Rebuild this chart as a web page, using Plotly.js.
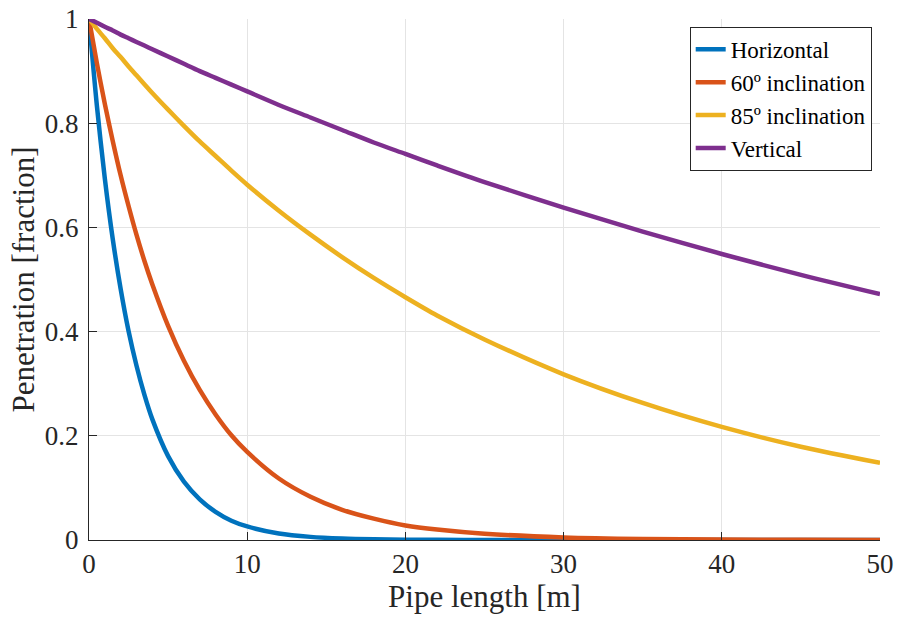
<!DOCTYPE html>
<html>
<head>
<meta charset="utf-8">
<script src="https://cdn.plot.ly/plotly-3.0.1.min.js"></script>
<style>html,body{margin:0;padding:0;background:#fff;}#chart{width:898px;height:621px;}</style>
</head>
<body>
<div id="chart"></div>
<script>
// Pipe length [m]
const pipeLength = [0,0.5,1,1.5,2,2.5,3,3.5,4,5,6,7,8,9,10,12,14,16,18,20,22,25,30,35,40,45,50];
// Penetration [fraction]
const horizontal = [1,0.833,0.694,0.578,0.482,0.401,0.335,0.279,0.232,0.161,0.112,0.078,0.054,0.037,0.026,0.0125,0.006,0.0029,0.0014,0.0007,0.0003,0.0001,0,0,0,0,0];
const incl60 = [1,0.915,0.837,0.766,0.700,0.641,0.586,0.536,0.491,0.411,0.344,0.288,0.241,0.201,0.169,0.118,0.083,0.058,0.041,0.028,0.020,0.012,0.005,0.002,0.0008,0.0003,0.0001];
const incl85 = [1,0.981,0.963,0.944,0.927,0.909,0.892,0.875,0.858,0.826,0.795,0.765,0.737,0.709,0.682,0.632,0.586,0.543,0.503,0.466,0.431,0.385,0.318,0.263,0.217,0.179,0.148];
const vertical = [1,0.993,0.985,0.978,0.970,0.963,0.956,0.949,0.942,0.928,0.914,0.900,0.887,0.874,0.861,0.835,0.811,0.787,0.763,0.741,0.719,0.687,0.638,0.592,0.549,0.509,0.472];
const seriesNames = ["Horizontal","60º inclination","85º inclination","Vertical"];
const seriesColors = ["#0072BD","#D95319","#EDB120","#7E2F8E"];
const xTicks = [0,10,20,30,40,50];
const yTicks = [0,0.2,0.4,0.6,0.8,1];

const allY = [horizontal, incl60, incl85, vertical];
const traces = allY.map((ys, i) => ({
  type: "scatter", mode: "lines",
  x: pipeLength, y: ys, name: seriesNames[i],
  line: {color: seriesColors[i], width: 4.5, shape: "spline", smoothing: 0.8}
}));

const fontFam = "'Liberation Serif', 'Times New Roman', Times, serif";
const axisCommon = {
  showline: true, linecolor: "#262626", linewidth: 1, mirror: false,
  ticks: "inside", ticklen: 8, tickwidth: 1, tickcolor: "#262626",
  showgrid: true, gridcolor: "#e4e4e4", gridwidth: 1, zeroline: false,
  automargin: false
};

const layout = {
  width: 898, height: 621,
  margin: {l: 89, r: 18, t: 19, b: 81},
  paper_bgcolor: "#ffffff", plot_bgcolor: "#ffffff",
  font: {family: fontFam, color: "#262626", size: 27},
  showlegend: true,
  xaxis: Object.assign({}, axisCommon, {
    range: [0, 50], tickvals: xTicks, ticktext: xTicks.map(String),
    tickfont: {family: fontFam, size: 27, color: "#262626"},
    title: {text: "Pipe length [m]", font: {family: fontFam, size: 31, color: "#262626"}, standoff: 4}
  }),
  yaxis: Object.assign({}, axisCommon, {
    range: [0, 1], tickvals: yTicks, ticktext: yTicks.map(String),
    tickfont: {family: fontFam, size: 27, color: "#262626"},
    ticklabelstandoff: 4,
    title: {text: "Penetration [fraction]", font: {family: fontFam, size: 31, color: "#262626"}, standoff: 0}
  }),
  legend: {
    x: 0.9895, y: 0.985, xanchor: "right", yanchor: "top",
    bgcolor: "#ffffff", bordercolor: "#262626", borderwidth: 1,
    font: {family: fontFam, size: 23, color: "#000000"},
    tracegroupgap: 0, itemwidth: 30
  }
};

Plotly.newPlot("chart", traces, layout, {displayModeBar: false, staticPlot: true});
</script>
</body>
</html>
